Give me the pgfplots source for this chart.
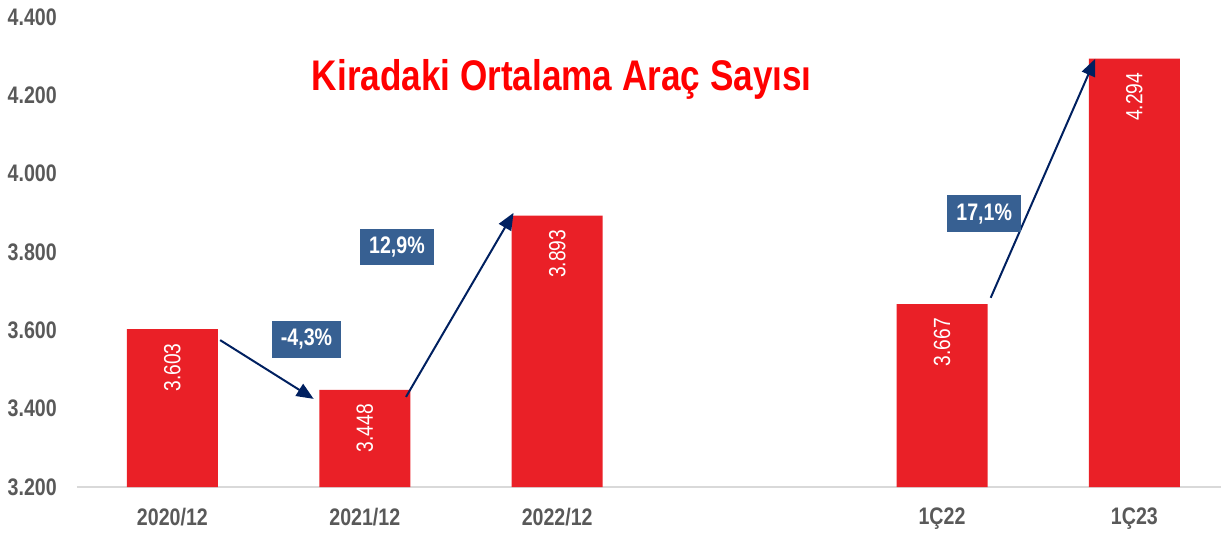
\documentclass[border=0pt]{standalone}
\usepackage{fontspec}
\setmainfont{Liberation Sans}[FakeStretch=0.82]
\usepackage{pgfplots}
\pgfplotsset{compat=1.18}
\usetikzlibrary{arrows.meta}
\definecolor{barred}{RGB}{234,32,39}
\definecolor{ticklab}{RGB}{89,89,89}
\definecolor{axgrey}{RGB}{217,217,217}
\definecolor{navyarr}{RGB}{0,32,96}
\definecolor{boxblue}{RGB}{55,96,146}
\definecolor{titlered}{RGB}{255,0,0}
\begin{document}
\begin{tikzpicture}
\begin{axis}[
  at={(0,0)}, anchor=south west,
  scale only axis, width=1144bp, height=470bp,
  xmin=-0.496, xmax=5.45, ymin=3200, ymax=4400,
  clip=false,
  axis lines*=left,
  y axis line style={draw=none},
  x axis line style={draw=axgrey, line width=2bp, -},
  tick style={draw=none},
  major tick length=0pt,
  xtick={0,1,2,4,5},
  xticklabels={2020/12,2021/12,2022/12,1Ç22,1Ç23},
  ytick={3200,3400,3600,3800,4000,4200,4400},
  scaled y ticks=false,
  yticklabel style={font=\fontsize{24}{24}\selectfont\bfseries, text=ticklab, anchor=east, inner sep=0pt, xshift=-20bp},
  xticklabel style={font=\fontsize{24}{24}\selectfont\bfseries, text=ticklab, anchor=north, inner sep=0pt, yshift=-21bp},
  /pgf/number format/.cd, 1000 sep={.}, assume math mode=true,
]
\addplot[ybar, bar width=0.473, fill=barred, draw=none,
  nodes near coords,
  nodes near coords style={rotate=90, anchor=east, text=white, inner xsep=14bp, inner ysep=0pt,
    font=\fontsize{23.5}{23.5}\selectfont,
    /pgf/number format/.cd, 1000 sep={.}, assume math mode=true}]
  coordinates {(0,3603) (1,3448) (2,3893) (4,3667) (5,4294)};

\draw[navyarr, line width=2bp, -{Triangle[length=17bp,width=14bp]}] (axis cs:0.248,3575) -- (axis cs:0.734,3425);
\draw[navyarr, line width=2bp, -{Triangle[length=17bp,width=14bp]}] (axis cs:1.214,3430) -- (axis cs:1.773,3900);
\draw[navyarr, line width=2bp, -{Triangle[length=17bp,width=14bp]}] (axis cs:4.253,3683) -- (axis cs:4.796,4293);

\node[fill=boxblue, text=white, font=\fontsize{24}{24}\selectfont\bfseries, inner xsep=9bp, inner ysep=8bp] at (axis cs:0.697,3577) {-4,3\%};
\node[fill=boxblue, text=white, font=\fontsize{24}{24}\selectfont\bfseries, inner xsep=9bp, inner ysep=8bp] at (axis cs:1.167,3813) {12,9\%};
\node[fill=boxblue, text=white, font=\fontsize{24}{24}\selectfont\bfseries, inner xsep=9bp, inner ysep=8bp] at (axis cs:4.219,3898) {17,1\%};

\node[text=titlered, font=\fontsize{43}{43}\selectfont\bfseries] at (axis cs:2.024,4240) {Kiradaki Ortalama Araç Sayısı};
\end{axis}
\pgfresetboundingbox
\path[use as bounding box] (-77bp,-50bp) rectangle (1144bp,487bp);
\end{tikzpicture}
\end{document}
